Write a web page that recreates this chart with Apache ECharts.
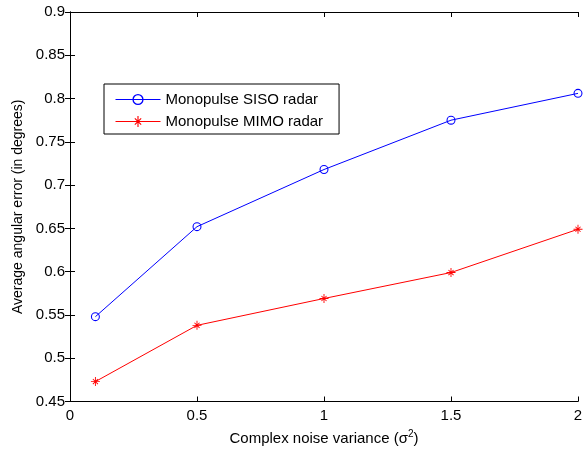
<!DOCTYPE html>
<html><head><meta charset="utf-8">
<script src="https://cdn.jsdelivr.net/npm/echarts@6/dist/echarts.min.js"></script>
<style>html,body{margin:0;padding:0;background:#fff}#c{width:586px;height:451px}</style>
</head><body><div id="c"></div>
<script>
const xValues = [0.1, 0.5, 1, 1.5, 2];
const sisoValues = [0.548, 0.652, 0.718, 0.775, 0.806];
const mimoValues = [0.473, 0.538, 0.569, 0.599, 0.649];
const seriesNames = ['Monopulse SISO radar', 'Monopulse MIMO radar'];

const ring = 'path://M10,0A10,10 0 1,1 -10,0A10,10 0 1,1 10,0Z M7.6,0A7.6,7.6 0 1,0 -7.6,0A7.6,7.6 0 1,0 7.6,0Z';
const asterisk = 'path://M-1,-10L1,-10L1,10L-1,10Z M-10,-1L10,-1L10,1L-10,1Z M-4.95,-6.36L6.36,4.95L4.95,6.36L-6.36,-4.95Z M6.36,-4.95L-4.95,6.36L-6.36,4.95L4.95,-6.36Z';
const font = 'Liberation Sans';

const chart = echarts.init(document.getElementById('c'), null, {renderer: 'canvas'});
const axisCommon = {
  axisLine: {show: true, lineStyle: {color: '#000', width: 1}},
  axisTick: {show: true, inside: true, length: 5, lineStyle: {color: '#000'}},
  splitLine: {show: false}
};
chart.setOption({
  animation: false,
  backgroundColor: '#fff',
  textStyle: {fontFamily: font},
  grid: {left: 70, right: 8, top: 12, bottom: 47},
  legend: {
    orient: 'vertical', left: 104, top: 84,
    padding: [8, 16, 5, 11], itemGap: 7,
    borderColor: '#000', borderWidth: 1, backgroundColor: '#fff',
    itemWidth: 45, itemHeight: 14,
    lineStyle: {width: 1},
    textStyle: {fontFamily: font, fontSize: 15, color: '#000'},
    data: seriesNames
  },
  xAxis: [
    Object.assign({}, axisCommon, {
      type: 'value', min: 0, max: 2, interval: 0.5, position: 'bottom',
      axisLabel: {color: '#000', fontSize: 15, fontFamily: font, margin: 7},
      name: 'Complex noise variance ({a|σ}{s|2})', nameLocation: 'middle', nameGap: 28,
      nameTextStyle: {color: '#000', fontSize: 15, fontFamily: font,
        rich: {a: {fontSize: 15, fontFamily: font, color: '#000'},
               s: {fontSize: 10, fontFamily: font, color: '#000', verticalAlign: 'top', padding: [0, 0, 8, 0]}}}
    }),
    Object.assign({}, axisCommon, {
      type: 'value', min: 0, max: 2, interval: 0.5, position: 'top',
      axisLabel: {show: false}
    })
  ],
  yAxis: [
    Object.assign({}, axisCommon, {
      type: 'value', min: 0.45, max: 0.9, interval: 0.05, position: 'left',
      axisLabel: {color: '#000', fontSize: 15, fontFamily: font, margin: 5,
        formatter: v => String(parseFloat(v.toFixed(2)))},
      name: 'Average angular error (in degrees)', nameLocation: 'middle', nameGap: 45,
      nameTextStyle: {color: '#000', fontSize: 14, fontFamily: font}
    }),
    Object.assign({}, axisCommon, {
      type: 'value', min: 0.45, max: 0.9, interval: 0.05, position: 'right',
      axisLabel: {show: false}
    })
  ],
  series: [
    {
      name: seriesNames[0], type: 'line',
      data: xValues.map((x, i) => [x, sisoValues[i]]),
      symbol: ring, symbolSize: 9,
      lineStyle: {color: '#0000ff', width: 1},
      itemStyle: {color: '#0000ff'},
      emphasis: {disabled: true}
    },
    {
      name: seriesNames[1], type: 'line',
      data: xValues.map((x, i) => [x, mimoValues[i]]),
      symbol: asterisk, symbolSize: 9,
      lineStyle: {color: '#ff0000', width: 1},
      itemStyle: {color: '#ff0000'},
      emphasis: {disabled: true}
    }
  ]
});
</script></body></html>
